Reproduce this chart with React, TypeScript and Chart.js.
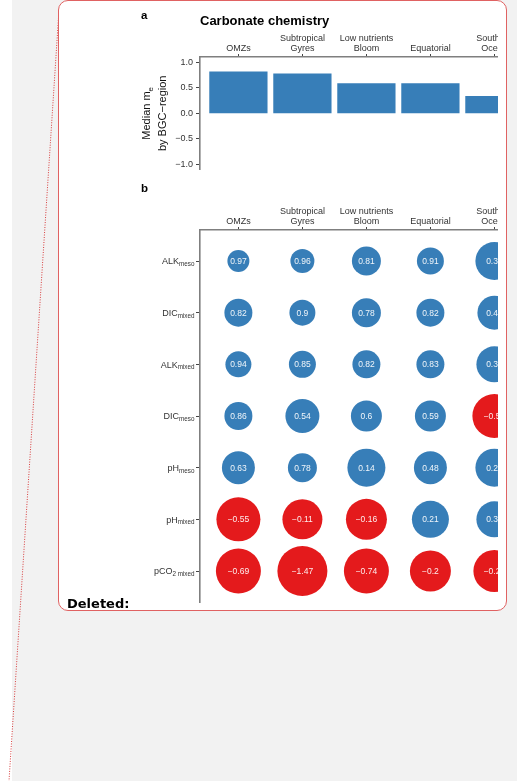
import React, { useEffect, useRef } from "react";
import { Chart, registerables } from "chart.js";
Chart.register(...registerables);

// ---------- data ----------
const REGIONS = ["OMZs", "Subtropical Gyres", "Low nutrients Bloom", "Equatorial", "Southern Ocean"];
const REGION_LABELS = [["OMZs"], ["Subtropical", "Gyres"], ["Low nutrients", "Bloom"], ["Equatorial"], ["Southern", "Ocean"]];
const MEDIAN_ME = [0.81, 0.77, 0.58, 0.58, 0.33];
const Y_TICKS_A = [-1, -0.5, 0, 0.5, 1];

const VAR_MAIN = ["ALK", "DIC", "ALK", "DIC", "pH", "pH", "pCO"];
const VAR_SUB = ["meso", "mixed", "mixed", "meso", "meso", "mixed", "2 mixed"];

const ALK_MESO = [0.97, 0.96, 0.81, 0.91, 0.34];
const DIC_MIXED = [0.82, 0.9, 0.78, 0.82, 0.47];
const ALK_MIXED = [0.94, 0.85, 0.82, 0.83, 0.37];
const DIC_MESO = [0.86, 0.54, 0.6, 0.59, -0.52];
const PH_MESO = [0.63, 0.78, 0.14, 0.48, 0.29];
const PH_MIXED = [-0.55, -0.11, -0.16, 0.21, 0.34];
const PCO2_MIXED = [-0.69, -1.47, -0.74, -0.2, -0.23];

// circle sizes (radius)
const ALK_MESO_SIZE = [11, 12, 14.5, 13.5, 19];
const DIC_MIXED_SIZE = [14, 13, 14.5, 14, 17];
const ALK_MIXED_SIZE = [13, 13.5, 14, 14, 18];
const DIC_MESO_SIZE = [14, 17, 15.5, 15.5, 22];
const PH_MESO_SIZE = [16.5, 14.5, 19, 16.5, 19];
const PH_MIXED_SIZE = [22, 20, 20.5, 18.5, 18];
const PCO2_MIXED_SIZE = [22.5, 25, 22.5, 20.5, 21];

const ROW_VALUES = [ALK_MESO, DIC_MIXED, ALK_MIXED, DIC_MESO, PH_MESO, PH_MIXED, PCO2_MIXED];
const ROW_SIZES = [ALK_MESO_SIZE, DIC_MIXED_SIZE, ALK_MIXED_SIZE, DIC_MESO_SIZE, PH_MESO_SIZE, PH_MIXED_SIZE, PCO2_MIXED_SIZE];

const X_MIN = 0.4;
const X_MAX = 9.775;

const BLUE = "#377EB8";
const RED = "#E41A1C";
const FONT = "'Liberation Sans', Arial, Helvetica, sans-serif";
const TXT = "#333333";
const AXIS = "#7f7f7f";

const fmt = (v: number) => (v < 0 ? "\u2212" : "") + String(Math.abs(v));
const fmt1 = (v: number) => (v < 0 ? "\u2212" : "") + Math.abs(v).toFixed(1);

export default function App() {
  const refA = useRef<HTMLCanvasElement>(null);
  const refB = useRef<HTMLCanvasElement>(null);

  useEffect(() => {
    document.body.style.margin = "0";

    const xScaleBase = (height: number) => ({
      type: "linear",
      position: "top",
      min: X_MIN,
      max: X_MAX,
      offset: false,
      afterFit: (s: any) => {
        s.height = height;
      },
      afterBuildTicks: (s: any) => {
        s.ticks = REGIONS.map((_, i) => ({ value: i + 1 }));
      },
      ticks: {
        autoSkip: false,
        maxRotation: 0,
        minRotation: 0,
        padding: 1,
        color: TXT,
        font: { family: FONT, size: 9, lineHeight: 1.1 },
        callback: (v: any) => REGION_LABELS[Number(v) - 1] ?? "",
      },
      grid: { offset: false, drawOnChartArea: false, drawTicks: true, tickLength: 3, color: "#444", lineWidth: 1 },
      border: { display: true, color: AXIS, width: 1.6 },
    });

    const decorA = {
      id: "decorA",
      afterDraw(chart: any) {
        const ctx = chart.ctx;
        const ca = chart.chartArea;
        ctx.save();
        ctx.fillStyle = "#000";
        ctx.textBaseline = "alphabetic";
        ctx.textAlign = "left";
        ctx.font = `bold 11.5px ${FONT}`;
        ctx.fillText("a", 41, 18.5);
        ctx.font = `bold 13px ${FONT}`;
        ctx.fillText("Carbonate chemistry", ca.left, 25);
        // rotated y title
        const cy = (ca.top + ca.bottom) / 2;
        const drawRot = (bx: number, main: string, sub: string) => {
          ctx.save();
          ctx.translate(bx, cy);
          ctx.rotate(-Math.PI / 2);
          ctx.fillStyle = "#111";
          ctx.font = `11px ${FONT}`;
          const wm = ctx.measureText(main).width;
          ctx.font = `8px ${FONT}`;
          const ws = sub ? ctx.measureText(sub).width : 0;
          const start = -(wm + ws) / 2;
          ctx.font = `11px ${FONT}`;
          ctx.fillText(main, start, 0);
          if (sub) {
            ctx.font = `8px ${FONT}`;
            ctx.fillText(sub, start + wm, 2.5);
          }
          ctx.restore();
        };
        drawRot(50, "Median m", "e");
        drawRot(65.5, "by BGC\u2212region", "");
        ctx.restore();
      },
    };

    const chartA = new Chart(refA.current as HTMLCanvasElement, {
      type: "bar",
      data: {
        datasets: [
          {
            data: REGIONS.map((_, i) => ({ x: i + 1, y: MEDIAN_ME[i] })),
            backgroundColor: BLUE,
            borderWidth: 0,
            barThickness: 57.6,
          } as any,
        ],
      },
      options: {
        responsive: false,
        maintainAspectRatio: false,
        animation: false,
        events: [],
        layout: { autoPadding: false, padding: { left: 0, right: 0, top: 0, bottom: 6 } },
        plugins: { legend: { display: false }, tooltip: { enabled: false }, title: { display: false } },
        scales: {
          x: xScaleBase(57) as any,
          y: {
            type: "linear",
            min: -1.1,
            max: 1.1,
            afterFit: (s: any) => {
              s.width = 100;
            },
            afterBuildTicks: (s: any) => {
              s.ticks = Y_TICKS_A.map((v) => ({ value: v }));
            },
            ticks: {
              padding: 3,
              color: TXT,
              font: { family: FONT, size: 9 },
              callback: (v: any) => fmt1(Number(v)),
            },
            grid: { drawOnChartArea: false, drawTicks: true, tickLength: 4, color: "#444", lineWidth: 1 },
            border: { display: true, color: AXIS, width: 1.6 },
          } as any,
        },
      } as any,
      plugins: [decorA],
    });

    const decorB = {
      id: "decorB",
      afterDatasetsDraw(chart: any) {
        const ctx = chart.ctx;
        const meta = chart.getDatasetMeta(0);
        const ds = chart.data.datasets[0].data as any[];
        ctx.save();
        ctx.fillStyle = "rgba(255,255,255,0.92)";
        ctx.font = `8.5px ${FONT}`;
        ctx.textAlign = "center";
        ctx.textBaseline = "middle";
        meta.data.forEach((el: any, i: number) => {
          ctx.fillText(fmt(ds[i].v), el.x, el.y + 0.5);
        });
        ctx.restore();
      },
      afterDraw(chart: any) {
        const ctx = chart.ctx;
        const ca = chart.chartArea;
        const ys = chart.scales.y;
        ctx.save();
        ctx.fillStyle = "#000";
        ctx.textBaseline = "alphabetic";
        ctx.textAlign = "left";
        ctx.font = `bold 11.5px ${FONT}`;
        ctx.fillText("b", 41, 14);
        ctx.fillStyle = TXT;
        ctx.textAlign = "right";
        const xr = ca.left - 5.5;
        VAR_MAIN.forEach((m, i) => {
          const y = ys.getPixelForValue(i + 1);
          ctx.font = `6.3px ${FONT}`;
          const ws = ctx.measureText(VAR_SUB[i]).width;
          ctx.fillText(VAR_SUB[i], xr, y + 5);
          ctx.font = `9px ${FONT}`;
          ctx.fillText(m, xr - ws, y + 3.2);
        });
        ctx.restore();
      },
    };

    const points: any[] = [];
    ROW_VALUES.forEach((row, r) => {
      row.forEach((v, c) => {
        points.push({ x: c + 1, y: r + 1, r: ROW_SIZES[r][c], v });
      });
    });

    const chartB = new Chart(refB.current as HTMLCanvasElement, {
      type: "bubble",
      data: {
        datasets: [
          {
            data: points,
            backgroundColor: (ctx: any) => (ctx.raw && ctx.raw.v < 0 ? RED : BLUE),
            borderWidth: 0,
            clip: false,
          } as any,
        ],
      },
      options: {
        responsive: false,
        maintainAspectRatio: false,
        animation: false,
        events: [],
        layout: { autoPadding: false, padding: { left: 0, right: 0, top: 0, bottom: 9 } },
        plugins: { legend: { display: false }, tooltip: { enabled: false }, title: { display: false } },
        scales: {
          x: xScaleBase(52) as any,
          y: {
            type: "linear",
            min: 0.4,
            max: 7.6,
            reverse: true,
            afterFit: (s: any) => {
              s.width = 100;
            },
            afterBuildTicks: (s: any) => {
              s.ticks = VAR_MAIN.map((_, i) => ({ value: i + 1 }));
            },
            ticks: { callback: () => "", font: { family: FONT, size: 9 } },
            grid: { drawOnChartArea: false, drawTicks: true, tickLength: 4, color: "#444", lineWidth: 1 },
            border: { display: true, color: AXIS, width: 1.6 },
          } as any,
        },
      } as any,
      plugins: [decorB],
    });

    return () => {
      chartA.destroy();
      chartB.destroy();
    };
  }, []);

  return (
    <div style={{ position: "relative", width: 517, height: 781, background: "#ffffff", overflow: "hidden" }}>
      <div style={{ position: "absolute", left: 12, top: 0, width: 505, height: 781, background: "#f2f2f2" }} />
      <svg style={{ position: "absolute", left: 0, top: 0 }} width={517} height={781}>
        <line x1={59} y1={10} x2={9} y2={781} stroke="#d83c3c" strokeWidth={1} strokeDasharray="1 1.5" />
      </svg>
      <div
        style={{
          position: "absolute",
          left: 58,
          top: 0,
          width: 449,
          height: 611,
          background: "#ffffff",
          border: "1.5px solid #e06262",
          borderRadius: 10,
          boxSizing: "border-box",
        }}
      />
      <div style={{ position: "absolute", left: 0, top: 0, width: 498, height: 611, overflow: "hidden" }}>
        <canvas
          ref={refA}
          width={700}
          height={178}
          style={{ position: "absolute", left: 100, top: 0, width: 700, height: 178 }}
        />
        <canvas
          ref={refB}
          width={700}
          height={433}
          style={{ position: "absolute", left: 100, top: 178, width: 700, height: 433 }}
        />
      </div>
      <div
        style={{
          position: "absolute",
          left: 67,
          top: 596.5,
          fontFamily: "'DejaVu Sans', Verdana, sans-serif",
          fontWeight: "bold",
          fontSize: 13,
          lineHeight: "13px",
          color: "#000",
          whiteSpace: "nowrap",
        }}
      >
        Deleted:
      </div>
    </div>
  );
}
